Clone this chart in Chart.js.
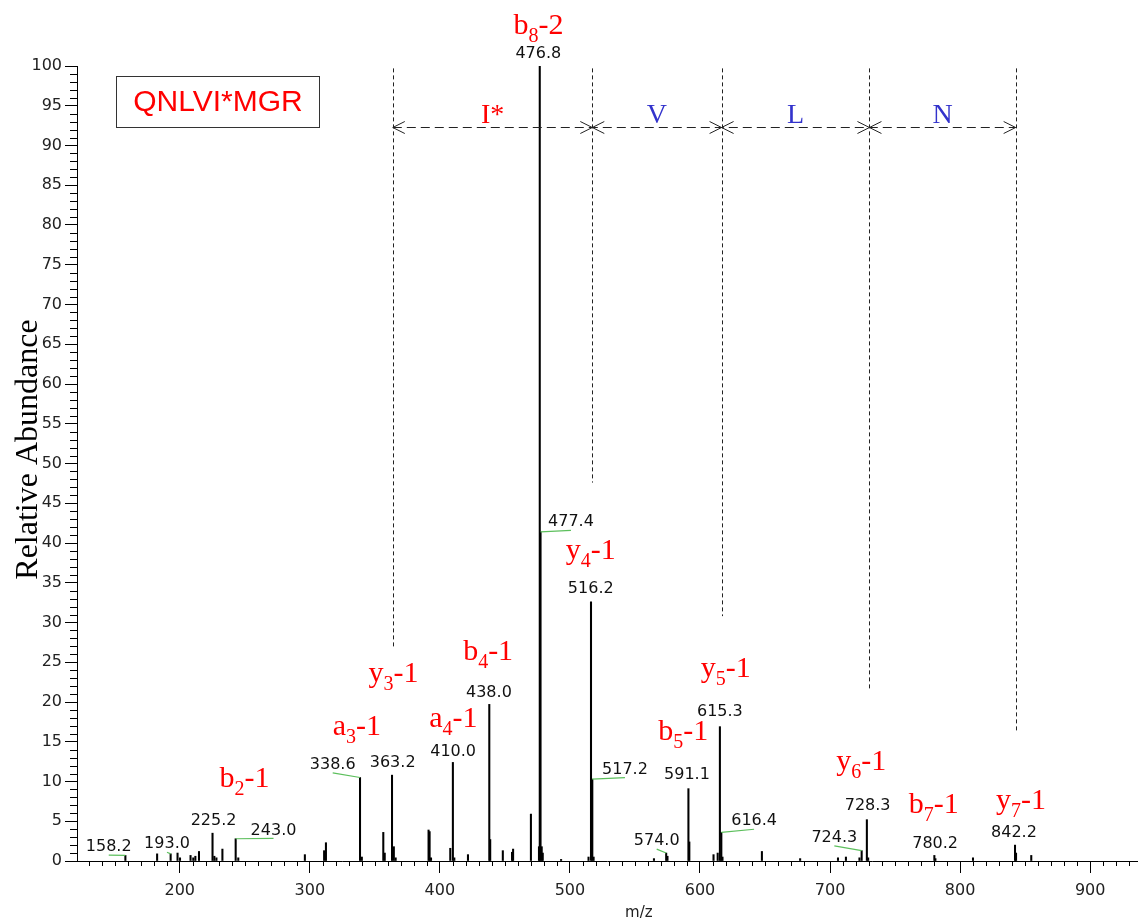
<!DOCTYPE html>
<html lang="en">
<head>
<meta charset="UTF-8">
<title>QNLVI*MGR MS/MS spectrum</title>
<script src="https://cdn.jsdelivr.net/npm/chart.js"></script>
<style>
  html, body { margin: 0; padding: 0; background: #fff; }
  canvas { display: block; }
</style>
</head>
<body>
<canvas id="spectrum" width="1139" height="924"></canvas>
<script>
// peak list: m/z and relative abundance (%)
const peakMz = [158.2, 182.6, 193.0, 198.3, 200.2, 208.3, 210.4, 212.0, 214.8, 225.2,
  226.6, 228.2, 232.8, 243.0, 245.0, 296.2, 311.0, 312.4, 338.6, 340.0,
  356.5, 357.6, 363.2, 364.6, 366.0, 391.3, 392.1, 393.2, 408.0, 410.0,
  411.1, 421.6, 438.0, 438.7, 448.4, 455.5, 456.3, 470.0, 476.2, 476.8,
  477.4, 478.3, 479.1, 493.2, 514.3, 516.2, 517.2, 518.2, 564.6, 574.0,
  575.0, 591.1, 591.8, 610.4, 613.6, 615.3, 616.4, 617.3, 647.6, 677.0,
  706.1, 712.2, 722.6, 724.3, 728.3, 729.3, 780.2, 781.0, 809.9, 842.2,
  843.0, 854.7];
const peakAbundance = [0.7, 0.9, 0.9, 1.0, 0.4, 0.7, 0.4, 0.6, 1.2, 3.5,
  0.6, 0.4, 1.5, 2.8, 0.4, 0.8, 1.3, 2.3, 10.5, 0.5,
  3.6, 1.0, 10.8, 1.8, 0.4, 3.9, 3.7, 0.4, 1.6, 12.4,
  0.4, 0.8, 19.7, 2.7, 1.3, 1.1, 1.5, 5.9, 1.8, 100,
  41.4, 1.8, 1.0, 0.2, 0.5, 32.6, 10.3, 0.5, 0.3, 1.0,
  0.6, 9.1, 2.4, 0.8, 1.0, 16.9, 3.6, 0.5, 1.2, 0.3,
  0.4, 0.5, 0.4, 1.3, 5.2, 0.4, 0.7, 0.3, 0.4, 2.0,
  1.0, 0.7];

// peaks that carry an m/z label
const labelledPeaks = [158.2, 193.0, 225.2, 243.0, 338.6, 363.2, 410.0, 438.0, 476.8, 477.4,
  516.2, 517.2, 574.0, 591.1, 615.3, 616.4, 724.3, 728.3, 780.2, 842.2];

// fragment ions: letter, subscript, loss
const ionType = ['b', 'y', 'a', 'b', 'a', 'b', 'y', 'b', 'y', 'y', 'b', 'y'];
const ionNumber = ['8', '3', '3', '2', '4', '4', '4', '5', '5', '6', '7', '7'];
const ionLoss = ['-2', '-1', '-1', '-1', '-1', '-1', '-1', '-1', '-1', '-1', '-1', '-1'];

// sequence ladder
const ladderMz = [363.8, 517.2, 616.6, 730.3, 842.7];
const ladderResidues = ['I*', 'V', 'L', 'N'];
const peptide = 'QNLVI*MGR';

// ---- placement (data units) ----
// [label centre m/z, label centre abundance, draw green link]
const peakLabelAt = [[145.4, 1.74, true], [190.2, 2.1, true], [226.0, 5.0, false], [272.1, 3.85, true],
  [317.6, 12.1, true], [363.7, 12.3, false], [410.2, 13.7, false], [437.7, 21.2, false],
  [475.7, 101.5, false], [500.8, 42.6, true], [516.0, 34.2, false], [542.3, 11.5, true],
  [566.7, 2.5, true], [590.0, 10.8, false], [615.3, 18.7, false], [641.6, 5.0, true],
  [703.3, 2.9, true], [728.9, 6.9, false], [780.8, 2.2, false], [841.4, 3.6, false]];
// [centre m/z, baseline abundance]
const ionLabelAt = [[475.9, 104.0], [364.4, 22.5], [336.2, 15.8], [249.7, 9.3], [410.4, 16.9],
  [437.1, 25.3], [516.0, 38.0], [587.1, 15.2], [619.8, 23.2], [723.9, 11.4], [779.8, 6.1], [846.9, 6.6]];
const ladderBottom = [26.9, 47.6, 30.8, 21.5, 16.1];
const ladderTop = 99.7, arrowLevel = 92.35, residueLevel = 92.85;

const RED = '#ff0000', BLUE = '#3333cc', GREEN = '#5cbf5c';

function abundanceOf(mz) {
  return peakAbundance[peakMz.indexOf(mz)];
}

function drawIon(ctx, cx, by, letter, num, loss) {
  const big = '30px "Liberation Serif"', small = '20px "Liberation Serif"';
  ctx.font = big;
  const w1 = ctx.measureText(letter).width, w3 = ctx.measureText(loss).width;
  ctx.font = small;
  const w2 = ctx.measureText(num).width;
  let xx = cx - (w1 + w2 + w3) / 2;
  ctx.textAlign = 'left';
  ctx.textBaseline = 'alphabetic';
  ctx.fillStyle = RED;
  ctx.font = big; ctx.fillText(letter, xx, by); xx += w1;
  ctx.font = small; ctx.fillText(num, xx, by + 8); xx += w2;
  ctx.font = big; ctx.fillText(loss, xx, by);
}

function arrowHead(ctx, tipX, tipY, dir) {
  ctx.beginPath();
  ctx.moveTo(tipX + dir * 12, tipY - 6);
  ctx.lineTo(tipX, tipY);
  ctx.lineTo(tipX + dir * 12, tipY + 6);
  ctx.stroke();
}

const annotations = {
  id: 'annotations',
  afterDraw(chart) {
    const { ctx, chartArea: area, scales: { x, y } } = chart;
    ctx.save();

    // minor ticks
    ctx.strokeStyle = '#000';
    ctx.lineWidth = 1;
    ctx.beginPath();
    for (let v = 1; v < 100; v++) {
      if (v % 5 === 0) continue;
      const py = Math.round(y.getPixelForValue(v)) + 0.5;
      ctx.moveTo(area.left - 7, py);
      ctx.lineTo(area.left, py);
    }
    for (let v = 130; v <= 930; v += 10) {
      if (v % 100 === 0) continue;
      const px = Math.round(x.getPixelForValue(v)) + 0.5;
      ctx.moveTo(px, area.bottom);
      ctx.lineTo(px, area.bottom + 5);
    }
    ctx.stroke();

    // peak m/z labels and green links
    ctx.font = '16px "DejaVu Sans"';
    ctx.textAlign = 'center';
    ctx.textBaseline = 'middle';
    labelledPeaks.forEach((mz, i) => {
      const [lx, ly, link] = peakLabelAt[i];
      const cx = x.getPixelForValue(lx), cy = y.getPixelForValue(ly);
      if (link) {
        ctx.strokeStyle = GREEN;
        ctx.lineWidth = 1.2;
        ctx.beginPath();
        ctx.moveTo(x.getPixelForValue(mz), y.getPixelForValue(abundanceOf(mz)));
        ctx.lineTo(cx, cy + 8);
        ctx.stroke();
      }
      ctx.fillStyle = '#111';
      ctx.fillText(mz.toFixed(1), cx, cy);
    });

    // ion labels
    ionType.forEach((t, i) => {
      const [mz, ab] = ionLabelAt[i];
      drawIon(ctx, x.getPixelForValue(mz), y.getPixelForValue(ab), t, ionNumber[i], ionLoss[i]);
    });

    // sequence ladder
    ctx.strokeStyle = '#222';
    ctx.lineWidth = 1;
    ctx.setLineDash([4, 3]);
    ladderMz.forEach((mz, i) => {
      const px = Math.round(x.getPixelForValue(mz)) + 0.5;
      ctx.beginPath();
      ctx.moveTo(px, y.getPixelForValue(ladderTop));
      ctx.lineTo(px, y.getPixelForValue(ladderBottom[i]));
      ctx.stroke();
    });
    const ay = Math.round(y.getPixelForValue(arrowLevel)) + 0.5;
    ctx.setLineDash([9, 5]);
    ctx.beginPath();
    ctx.moveTo(x.getPixelForValue(ladderMz[0]), ay);
    ctx.lineTo(x.getPixelForValue(ladderMz[ladderMz.length - 1]), ay);
    ctx.stroke();
    ctx.setLineDash([]);
    ladderMz.forEach((mz, i) => {
      const px = x.getPixelForValue(mz);
      if (i > 0) arrowHead(ctx, px, ay, -1);
      if (i < ladderMz.length - 1) arrowHead(ctx, px, ay, 1);
    });
    ctx.font = '28px "Liberation Serif"';
    ctx.textAlign = 'center';
    ctx.textBaseline = 'alphabetic';
    ladderResidues.forEach((r, i) => {
      const cx = (x.getPixelForValue(ladderMz[i]) + x.getPixelForValue(ladderMz[i + 1])) / 2;
      ctx.fillStyle = i === 0 ? RED : BLUE;
      ctx.fillText(r, cx, y.getPixelForValue(residueLevel));
    });

    // peptide box
    const bx = area.left + 39, by = area.top + 10;
    ctx.strokeStyle = '#333';
    ctx.lineWidth = 1;
    ctx.strokeRect(bx + 0.5, by + 0.5, 203, 51);
    ctx.fillStyle = RED;
    ctx.font = '30px "Liberation Sans"';
    ctx.textBaseline = 'middle';
    ctx.fillText(peptide, bx + 102, by + 27);

    // axis titles
    ctx.fillStyle = '#000';
    ctx.font = '32px "Liberation Serif"';
    ctx.textBaseline = 'alphabetic';
    ctx.translate(area.left - 40, (area.top + area.bottom) / 2 - 14);
    ctx.rotate(-Math.PI / 2);
    ctx.fillText('Relative Abundance', 0, 0);
    ctx.restore();

    ctx.save();
    ctx.fillStyle = '#222';
    ctx.font = '15px "DejaVu Sans"';
    ctx.textAlign = 'center';
    ctx.textBaseline = 'middle';
    ctx.fillText('m/z', x.getPixelForValue(553), area.bottom + 52);
    ctx.restore();
  }
};

const tickFont = { family: 'DejaVu Sans', size: 16 };

new Chart(document.getElementById('spectrum').getContext('2d'), {
  type: 'bar',
  data: {
    datasets: [{
      data: peakMz.map((mz, i) => ({ x: mz, y: peakAbundance[i] })),
      backgroundColor: '#000',
      borderWidth: 0,
      barThickness: 1.4
    }]
  },
  options: {
    responsive: false,
    animation: false,
    layout: { padding: { top: 66, right: 2, left: 0, bottom: 0 } },
    plugins: { legend: { display: false }, tooltip: { enabled: false } },
    scales: {
      x: {
        type: 'linear',
        min: 121,
        max: 936,
        offset: false,
        grid: { display: true, offset: false, drawOnChartArea: false, drawTicks: true, tickLength: 12, color: '#000' },
        border: { display: true, color: '#000', width: 1 },
        ticks: { stepSize: 100, includeBounds: false, autoSkip: false, maxRotation: 0, padding: 8, font: tickFont, color: '#222' },
        afterFit: s => { s.height = 63; }
      },
      y: {
        min: 0,
        max: 100,
        grid: { display: true, drawOnChartArea: false, drawTicks: true, tickLength: 12, color: '#000' },
        border: { display: true, color: '#000', width: 1 },
        ticks: { stepSize: 5, autoSkip: false, padding: 3, font: tickFont, color: '#222' },
        afterFit: s => { s.width = 77; }
      }
    }
  },
  plugins: [annotations]
});
</script>
</body>
</html>
